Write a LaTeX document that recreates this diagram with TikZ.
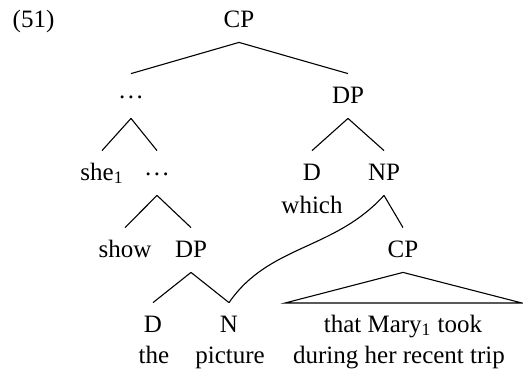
\documentclass[tikz,border=0pt]{standalone}
\usepackage{fontspec}
\setmainfont{Liberation Serif}
% three raised, tightly spaced dots for elided material
\newcommand\elide{\raisebox{2.3pt}{.\kern1.2pt.\kern1.2pt.}}
\begin{document}
\begin{tikzpicture}[x=0.5pt, y=-0.5pt,
  font=\fontsize{12.5}{15}\selectfont,
  lbl/.style={anchor=base, text height=11pt, text depth=4pt,
              inner ysep=3.5pt, inner xsep=1pt},
  plain/.style={anchor=base, inner sep=0pt},
  branch/.style={line width=0.55pt, line join=miter}]
\useasboundingbox (0,0) rectangle (523,371);

% example number
\node[plain] (ex) at (33.5,27) {(51)};

% tree labels
\node[lbl] (cp)    at (239,27)  {CP};
\node[lbl] (dots1) at (131,103) {\elide};
\node[lbl] (dp1)   at (348,103) {DP};
\node[lbl] (she)   at (102,180) {she\textsubscript{1}};
\node[lbl] (dots2) at (157,180) {\elide};
\node[lbl] (d1)    at (312,180) {D};
\node[plain] (whch) at (312,213) {which};
\node[lbl] (np)    at (384,180) {NP};
\node[lbl] (show)  at (125,257) {show};
\node[lbl] (dp2)   at (191,257) {DP};
\node[lbl] (cp2)   at (403,257) {CP};
\node[lbl] (d2)    at (153,332) {D};
\node[plain] (the) at (154,363) {the};
\node[lbl] (n)     at (229,332) {N};
\node[plain] (pic) at (230,363) {picture};
\node[plain] (tx1) at (403,332) {that Mary\textsubscript{1} took};
\node[plain] (tx2) at (399,363) {during her recent trip};

% corners of the triangle over the relative clause
\coordinate (tl) at (285,303);
\coordinate (tr) at (522,303);

% branches
\draw[branch] (cp.south) -- (dots1.north);
\draw[branch] (cp.south) -- (dp1.north);
\draw[branch] (dots1.south) -- (she.north);
\draw[branch] (dots1.south) -- (dots2.north);
\draw[branch] (dp1.south) -- (d1.north);
\draw[branch] (dp1.south) -- (np.north);
\draw[branch] (dots2.south) -- (show.north);
\draw[branch] (dots2.south) -- (dp2.north);
\draw[branch] (np.south) -- (cp2.north);
\draw[branch] (dp2.south) -- (d2.north);
\draw[branch] (dp2.south) -- (n.north);
% NP reconstructed below the DP
\draw[branch] (np.south) .. controls +(-50,55) and +(40,-58) .. (n.north);
% triangle
\draw[branch] (cp2.south) -- (tl) -- (tr) -- cycle;
\end{tikzpicture}
\end{document}
